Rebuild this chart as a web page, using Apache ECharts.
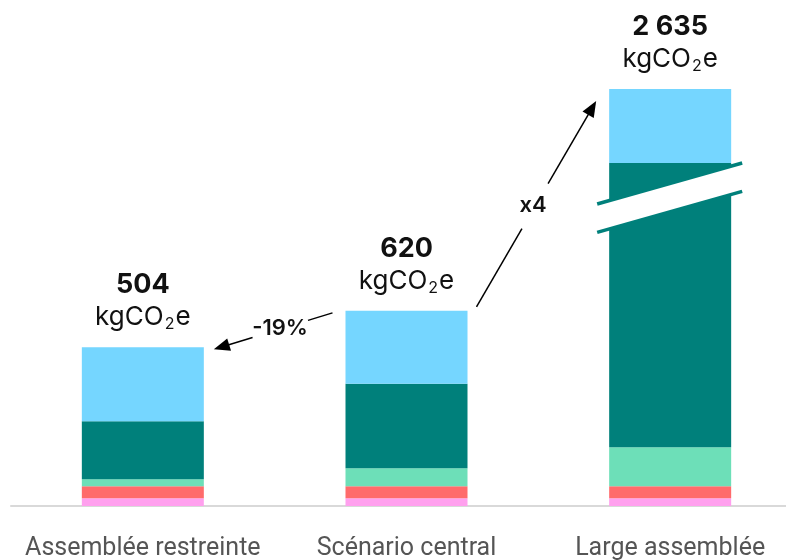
<!DOCTYPE html>
<html>
<head>
<meta charset="utf-8">
<script src="https://cdn.jsdelivr.net/npm/echarts@6/dist/echarts.min.js"></script>
<style>
html,body{margin:0;padding:0;background:#fff;}
#chart{width:786px;height:560px;}
</style>
</head>
<body>
<div id="chart"></div>
<script>
const categories = ['Assemblée restreinte', 'Scénario central', 'Large assemblée'];
const pinkVals = [25, 25, 25];
const redVals  = [38, 38, 38];
const mintVals = [22, 57, 124];
const tealVals = [184, 268, 2213];
const skyVals  = [235, 232, 235];
const totalLabels = ['504', '620', '2 635'];
const totals = [504, 620, 2635];
const changeLabels = ['-19%', 'x4'];
const axisBreak = { start: 935, end: 2335, gap: 90 };

const colors = ['#FFA0EE', '#FF6B6B', '#6DDFB8', '#00807B', '#75D6FF'];
const FONT = 'Inter, "Noto Sans", sans-serif';
const BAR_W = 122;

const chart = echarts.init(document.getElementById('chart'), null, { renderer: 'canvas' });

function mk(name, data, color, withLabel) {
  const s = {
    name: name, type: 'bar', stack: 'total', data: data, barWidth: BAR_W,
    itemStyle: { color: color }, silent: true
  };
  if (withLabel) {
    s.label = {
      show: true, position: 'top', distance: 15,
      formatter: p => '{b|' + totalLabels[p.dataIndex] + '}\n{n|kgCO}{s|2}{n|e}',
      rich: {
        b: { fontFamily: FONT, fontSize: 27, fontWeight: 'bold', color: '#111', lineHeight: 34, align: 'center' },
        n: { fontFamily: FONT, fontSize: 26, color: '#111', lineHeight: 30 },
        s: { fontFamily: FONT, fontSize: 16, color: '#111', verticalAlign: 'bottom', lineHeight: 16, padding: [0, 1, 0, 1] }
      }
    };
  }
  return s;
}

chart.setOption({
  animation: false,
  grid: { left: 11, right: -16, top: 37, bottom: 54, outerBoundsMode: 'none', containLabel: false },
  xAxis: {
    type: 'category', data: categories,
    axisLine: { lineStyle: { color: '#d9d9d9', width: 2 } },
    axisTick: { show: false },
    axisLabel: { interval: 0, fontFamily: 'Roboto, sans-serif', fontSize: 25, color: '#555', margin: 30 }
  },
  yAxis: {
    type: 'value', min: 0, max: 2800, show: false,
    splitLine: { show: false },
    breaks: [axisBreak],
    breakArea: { show: false }
  },
  series: [
    mk('pink', pinkVals, colors[0]),
    mk('red', redVals, colors[1]),
    mk('mint', mintVals, colors[2]),
    mk('teal', tealVals, colors[3]),
    mk('sky', skyVals, colors[4], true)
  ]
});

function px(i, v) { return chart.convertToPixel({ gridIndex: 0 }, [i, v]); }

function arrow(x1, y1, x2, y2, label, lx, ly) {
  const dx = x2 - x1, dy = y2 - y1, L = Math.sqrt(dx * dx + dy * dy);
  const ux = dx / L, uy = dy / L;
  const head = 16, hw = 6.5;
  const bx = x2 - ux * head, by = y2 - uy * head;
  const els = [];
  const t = ((lx - x1) * ux + (ly - y1) * uy);
  const gapHalf = label.gap;
  els.push({ type: 'line', shape: { x1: x1, y1: y1, x2: x1 + ux * (t - gapHalf), y2: y1 + uy * (t - gapHalf) },
             style: { stroke: '#000', lineWidth: 1.5 }, z: 50 });
  els.push({ type: 'line', shape: { x1: x1 + ux * (t + gapHalf), y1: y1 + uy * (t + gapHalf), x2: bx + ux * 2, y2: by + uy * 2 },
             style: { stroke: '#000', lineWidth: 1.5 }, z: 50 });
  els.push({ type: 'polygon', shape: { points: [[x2, y2], [bx - uy * hw, by + ux * hw], [bx + uy * hw, by - ux * hw]] },
             style: { fill: '#000' }, z: 50 });
  els.push({ type: 'text', x: lx, y: ly, style: { text: label.text, fontFamily: FONT, fontSize: 22, fontWeight: 600,
             fill: '#111', align: 'center', verticalAlign: 'middle' }, z: 51 });
  return els;
}

function drawGraphics() {
  const half = BAR_W / 2;
  const p1 = px(0, totals[0]), p2 = px(1, totals[1]), p3 = px(2, totals[2]);
  const g = [];
  g.push(...arrow(p2[0] - half - 13, p2[1] + 2, p1[0] + half + 10, p1[1] + 2,
                  { text: changeLabels[0], gap: 29 }, 280, 328));
  g.push(...arrow(p2[0] + half + 9, p2[1] - 4, p3[0] - half - 13, p3[1] + 12,
                  { text: changeLabels[1], gap: 26 }, 533, 205));
  const cx = p3[0];
  const yS = px(2, axisBreak.start)[1];
  const yE = px(2, axisBreak.end)[1];
  const slope = 0.283, l = 73, r = 72;
  const up = [[cx - l, yE + slope * l], [cx + r, yE - slope * r]];
  const lo = [[cx + r, yS - slope * r], [cx - l, yS + slope * l]];
  g.push({ type: 'polygon', shape: { points: [up[0], up[1], lo[0], lo[1]] }, style: { fill: '#fff' }, z: 40 });
  g.push({ type: 'line', shape: { x1: up[0][0], y1: up[0][1], x2: up[1][0], y2: up[1][1] },
           style: { stroke: colors[3], lineWidth: 3.5 }, z: 41 });
  g.push({ type: 'line', shape: { x1: lo[1][0], y1: lo[1][1], x2: lo[0][0], y2: lo[0][1] },
           style: { stroke: colors[3], lineWidth: 3.5 }, z: 41 });
  chart.setOption({ graphic: g });
}
drawGraphics();
</script>
</body>
</html>
